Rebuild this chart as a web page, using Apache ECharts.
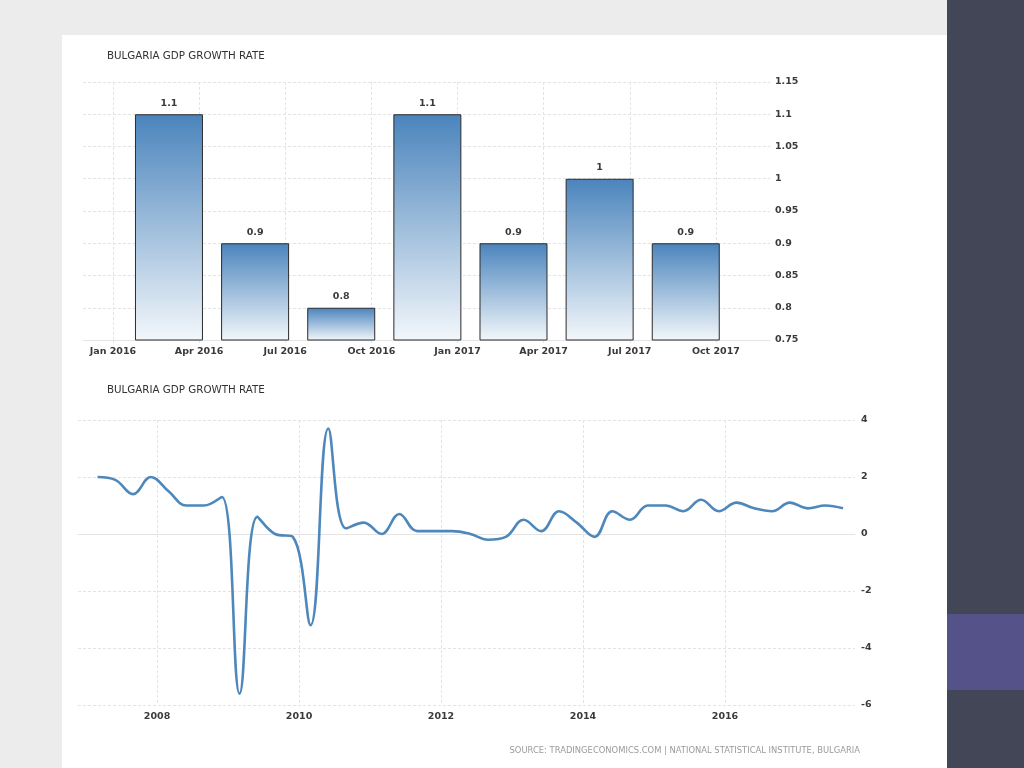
<!DOCTYPE html>
<html>
<head>
<meta charset="utf-8">
<script src="https://cdn.jsdelivr.net/npm/echarts@6/dist/echarts.min.js"></script>
<style>
  html, body { margin: 0; padding: 0; width: 1024px; height: 768px; overflow: hidden; background: #ececec; }
  #card { position: absolute; left: 62px; top: 35px; width: 885px; height: 733px; background: #ffffff; }
  #panel { position: absolute; left: 947px; top: 0; width: 77px; height: 768px; background: #434657; }
  #accent { position: absolute; left: 947px; top: 614px; width: 77px; height: 76px; background: #55528a; }
  #chart { position: absolute; left: 0; top: 0; width: 1024px; height: 768px; }
</style>
</head>
<body>
<div id="card"></div>
<div id="panel"></div>
<div id="accent"></div>
<div id="chart"></div>
<script>
// ---- data ----
const titleText = 'BULGARIA GDP GROWTH RATE';
const sourceText = 'SOURCE: TRADINGECONOMICS.COM | NATIONAL STATISTICAL INSTITUTE, BULGARIA';

const topQuarters = ['2016Q1', '2016Q2', '2016Q3', '2016Q4', '2017Q1', '2017Q2', '2017Q3'];
const topValues = [1.1, 0.9, 0.8, 1.1, 0.9, 1.0, 0.9];
const topTickLabels = ['Jan 2016', 'Apr 2016', 'Jul 2016', 'Oct 2016', 'Jan 2017', 'Apr 2017', 'Jul 2017', 'Oct 2017'];

const lineQuarters = [
  '2007Q1','2007Q2','2007Q3','2007Q4',
  '2008Q1','2008Q2','2008Q3','2008Q4',
  '2009Q1','2009Q2','2009Q3','2009Q4',
  '2010Q1','2010Q2','2010Q3','2010Q4',
  '2011Q1','2011Q2','2011Q3','2011Q4',
  '2012Q1','2012Q2','2012Q3','2012Q4',
  '2013Q1','2013Q2','2013Q3','2013Q4',
  '2014Q1','2014Q2','2014Q3','2014Q4',
  '2015Q1','2015Q2','2015Q3','2015Q4',
  '2016Q1','2016Q2','2016Q3','2016Q4',
  '2017Q1','2017Q2','2017Q3'
];
const lineValues = [
  2.0, 1.9, 1.4, 2.0,
  1.5, 1.0, 1.0, 1.3,
  -5.6, 0.6, 0.0, -0.1,
  -3.2, 3.7, 0.2, 0.4,
  0.0, 0.7, 0.1, 0.1,
  0.1, 0.0, -0.2, -0.1,
  0.5, 0.1, 0.8, 0.4,
  -0.1, 0.8, 0.5, 1.0,
  1.0, 0.8, 1.2, 0.8,
  1.1, 0.9, 0.8, 1.1,
  0.9, 1.0, 0.9
];

// quarter label -> decimal-year position used on the time (value) axes
function qPos(q) {
  const y = parseInt(q.slice(0, 4), 10);
  const n = parseInt(q.slice(5), 10);
  return y + (n - 1) * 0.25 + 0.1625;
}

const FONT = 'DejaVu Sans';
const labelStyle = { color: '#3a3a3a', fontSize: 9.5, fontWeight: 'bold', fontFamily: FONT };
const gridLine = { show: true, lineStyle: { color: '#e4e4e4', type: [3, 2], width: 1 } };
const titleStyle = { fontFamily: FONT, fontSize: 10.3, fontWeight: 'normal', color: '#333' };

const chart = echarts.init(document.getElementById('chart'), null, { renderer: 'canvas' });

const option = {
  backgroundColor: 'transparent',
  animation: false,
  textStyle: { fontFamily: FONT },
  title: [
    { text: titleText, left: 107, top: 51, padding: 0, textStyle: titleStyle },
    { text: titleText, left: 107, top: 385, padding: 0, textStyle: titleStyle }
  ],
  graphic: [
    { type: 'text', right: 164, top: 747, style: { text: sourceText, fill: '#9a9a9a', font: '8.4px "DejaVu Sans"' } }
  ],
  grid: [
    { left: 83, top: 82, width: 687, height: 258 },
    { left: 78, top: 420, width: 777, height: 285 }
  ],
  xAxis: [
    {
      type: 'value', gridIndex: 0,
      min: 2015.913, max: 2017.907,
      minInterval: 0.25, maxInterval: 0.25,
      axisLine: { show: true, lineStyle: { color: '#e4e4e4' } },
      axisTick: { show: true, length: 3, lineStyle: { color: '#e4e4e4' } },
      splitLine: Object.assign({ showMinLine: false, showMaxLine: false }, gridLine),
      axisLabel: Object.assign({
        margin: 7, showMinLabel: false, showMaxLabel: false,
        formatter: function (v) {
          const i = Math.round((v - 2016) * 4);
          return Math.abs((v - 2016) * 4 - i) < 1e-6 && topTickLabels[i] ? topTickLabels[i] : '';
        }
      }, labelStyle)
    },
    {
      type: 'value', gridIndex: 1,
      min: 2006.887, max: 2017.831,
      minInterval: 2, maxInterval: 2,
      axisLine: { show: true, lineStyle: { color: '#e4e4e4' } },
      axisTick: { show: true, length: 3, lineStyle: { color: '#e4e4e4' } },
      splitLine: Object.assign({ showMinLine: false, showMaxLine: false }, gridLine),
      axisLabel: Object.assign({
        margin: 7, showMinLabel: false, showMaxLabel: false,
        formatter: function (v) { return Math.abs(v - Math.round(v)) < 1e-6 ? String(Math.round(v)) : ''; }
      }, labelStyle)
    }
  ],
  yAxis: [
    {
      type: 'value', gridIndex: 0, position: 'right',
      min: 0.75, max: 1.15, interval: 0.05,
      axisLine: { show: false }, axisTick: { show: false },
      splitLine: gridLine,
      axisLabel: Object.assign({ margin: 5,
        formatter: function (v) { return String(Math.round(v * 100) / 100); } }, labelStyle)
    },
    {
      type: 'value', gridIndex: 1, position: 'right',
      min: -6, max: 4, interval: 2,
      axisLine: { show: false }, axisTick: { show: false },
      splitLine: gridLine,
      axisLabel: Object.assign({ margin: 6 }, labelStyle)
    }
  ],
  series: [
    {
      type: 'bar', xAxisIndex: 0, yAxisIndex: 0,
      barWidth: 68,
      clip: true,
      data: topQuarters.map(function (q, i) { return [qPos(q), topValues[i]]; }),
      itemStyle: {
        borderColor: '#2b2b2b', borderWidth: 1,
        color: new echarts.graphic.LinearGradient(0, 0, 0, 1, [
          { offset: 0, color: '#4a84bc' },
          { offset: 1, color: '#f3f7fb' }
        ])
      },
      label: Object.assign({
        show: true, position: 'top', distance: 6,
        formatter: function (p) { return String(p.value[1]); }
      }, labelStyle)
    },
    {
      type: 'line', xAxisIndex: 1, yAxisIndex: 1,
      smooth: 0.4,
      symbol: 'none',
      data: lineQuarters.map(function (q, i) { return [qPos(q), lineValues[i]]; }),
      lineStyle: { color: '#4d87bb', width: 2.6 }
    }
  ]
};
chart.setOption(option);
</script>
</body>
</html>
